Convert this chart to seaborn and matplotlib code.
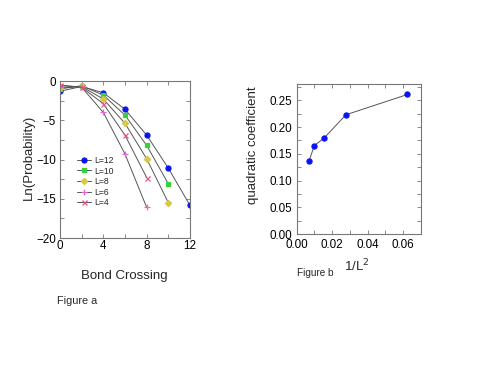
import numpy as np
import pandas as pd
import seaborn as sns
import matplotlib.pyplot as plt
from matplotlib.ticker import MultipleLocator

# Figure a: ln(probability) vs bond crossing for each system size
bond_x = [0, 2, 4, 6, 8, 10, 12]
ln_p_L12 = [-1.3, -0.7, -1.5, -3.6, -6.9, -11.1, -15.85]
ln_p_L10 = [-1.0, -0.6, -1.8, -4.35, -8.2, -13.1]
ln_p_L8 = [-0.9, -0.7, -2.3, -5.4, -9.9, -15.5]
ln_p_L6 = [-0.6, -0.8, -4.0, -9.3, -16.1]
ln_p_L4 = [-0.5, -0.8, -2.9, -6.9, -12.3]

# Figure b: quadratic coefficient vs 1/L^2
sizes = [12, 10, 8, 6, 4]
quad_coef = [0.137, 0.1655, 0.180, 0.223, 0.261]

series = [
    ("L=12", ln_p_L12, "o", "#0a14f0", 3.6),
    ("L=10", ln_p_L10, "s", "#33d433", 3.4),
    ("L=8", ln_p_L8, "D", "#d8c84a", 3.2),
    ("L=6", ln_p_L6, "+", "#f060d0", 4.0),
    ("L=4", ln_p_L4, "x", "#e8508a", 3.6),
]

sns.set_style("white")
plt.rcParams['font.family'] = ['Liberation Sans', 'DejaVu Sans']

fig = plt.figure(figsize=(4.98, 3.85), dpi=100)
ax1 = fig.add_axes([0.1205, 0.3818, 0.261, 0.4078])
ax2 = fig.add_axes([0.5958, 0.3922, 0.249, 0.3888])

for label, vals, mk, col, ms in series:
    df = pd.DataFrame({"x": bond_x[:len(vals)], "y": vals})
    sns.lineplot(data=df, x="x", y="y", ax=ax1, color="#555555", lw=0.7,
                 marker=mk, markersize=ms, markerfacecolor=col,
                 markeredgecolor=col, markeredgewidth=0.9, label=label)

ax1.set_xlim(0, 12)
ax1.set_ylim(-20, 0)
ax1.xaxis.set_major_locator(MultipleLocator(4))
ax1.xaxis.set_minor_locator(MultipleLocator(2))
ax1.yaxis.set_major_locator(MultipleLocator(5))
ax1.yaxis.set_minor_locator(MultipleLocator(2.5))
ax1.set_xlabel("")
ax1.set_ylabel("")
ax1.legend(loc="upper left", bbox_to_anchor=(0.1, 0.55), frameon=False,
           fontsize=6.2, handlelength=1.6, handletextpad=0.4,
           labelspacing=0.18, borderpad=0)

df_b = pd.DataFrame({"inv_L2": [1.0 / L ** 2 for L in sizes], "coef": quad_coef})
sns.lineplot(data=df_b, x="inv_L2", y="coef", ax=ax2, color="#555555", lw=0.7,
             marker="o", markersize=3.8, markerfacecolor="#0a14f0",
             markeredgecolor="#0a14f0")
ax2.set_xlim(0, 0.07)
ax2.set_ylim(0, 0.28)
ax2.xaxis.set_minor_locator(MultipleLocator(0.01))
ax2.yaxis.set_minor_locator(MultipleLocator(0.025))
ax2.set_xticks([0, 0.02, 0.04, 0.06])
ax2.set_xticklabels(["0.00", "0.02", "0.04", "0.06"])
ax2.set_yticks([0, 0.05, 0.10, 0.15, 0.20, 0.25])
ax2.set_yticklabels(["0.00", "0.05", "0.10", "0.15", "0.20", "0.25"])
ax2.set_xlabel("")
ax2.set_ylabel("")

for ax in (ax1, ax2):
    for sp in ax.spines.values():
        sp.set_color("#777777")
        sp.set_linewidth(0.8)
    ax.tick_params(which="both", direction="in", top=True, right=True,
                   bottom=True, left=True, colors="#777777", labelcolor="black",
                   labelsize=8.4)
    ax.tick_params(which="both", length=3, width=0.6)
    ax.tick_params(axis="x", pad=1.5)
    ax.tick_params(axis="y", pad=3)
ax2.tick_params(axis="x", pad=3.5)

fig.text(0.058, 0.59, "Ln(Probability)", fontsize=9.5, rotation=90,
         ha="center", va="center")
fig.text(0.249, 0.283, "Bond Crossing", fontsize=9.5, ha="center", va="center")
fig.text(0.155, 0.218, "Figure a", fontsize=7.8, ha="center", va="center")
fig.text(0.508, 0.623, "quadratic coefficient", fontsize=9.5, rotation=90,
         ha="center", va="center")
fig.text(0.717, 0.309, "1/L$^2$", fontsize=9.5, ha="center", va="center")
fig.text(0.633, 0.291, "Figure b", fontsize=7.2, ha="center", va="center")

fig.savefig("out.png", dpi=100)
